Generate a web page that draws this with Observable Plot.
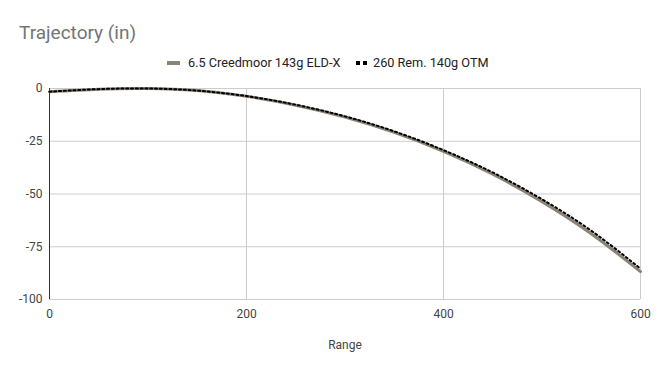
<!DOCTYPE html>
<html><head><meta charset="utf-8">
<script src="https://cdn.jsdelivr.net/npm/d3@7"></script>
<script src="https://cdn.jsdelivr.net/npm/@observablehq/plot@0.6"></script>
<style>
body{margin:0;background:#fff;font-family:Roboto,sans-serif;}
#wrap{position:relative;width:658px;height:371px;}
#title{position:absolute;left:19px;top:21px;font-size:19px;color:#757575;}
#legend{position:absolute;left:0;top:55px;width:658px;font-size:12.7px;color:#222;}
.sw{position:absolute;}
#chart{position:absolute;left:0;top:75px;}
</style></head>
<body><div id="wrap">
<div id="title">Trajectory (in)</div>
<div id="legend">
  <div class="sw" style="left:167px;top:6px;width:13px;height:3.5px;background:#8c8377"></div>
  <div style="position:absolute;left:188px;top:0;">6.5 Creedmoor 143g ELD-X</div>
  <div class="sw" style="left:356px;top:6px;width:3.5px;height:3.5px;background:#000"></div>
  <div class="sw" style="left:363px;top:6px;width:3.5px;height:3.5px;background:#000"></div>
  <div style="position:absolute;left:373px;top:0;">260 Rem. 140g OTM</div>
</div>
<div id="chart"></div>
</div>
<script>
const range = [0, 50, 100, 150, 200, 250, 300, 350, 400, 450, 500, 550, 600];
const creedmoor = [-1.5, -0.3, 0, -1.0, -3.7, -7.9, -13.5, -20.8, -29.8, -40.6, -53.6, -68.8, -86.8];
const rem260 = [-1.5, -0.3, 0, -1.0, -3.6, -7.7, -13.2, -20.3, -29.2, -39.8, -52.5, -67.4, -85.4];
const seriesNames = ["6.5 Creedmoor 143g ELD-X", "260 Rem. 140g OTM"];
const xTicks = [0, 200, 400, 600];
const yTicks = [0, -25, -50, -75, -100];

const d1 = range.map((r, i) => ({range: r, drop: creedmoor[i], series: seriesNames[0]}));
const d2 = range.map((r, i) => ({range: r, drop: rem260[i], series: seriesNames[1]}));

const chart = Plot.plot({
  width: 658, height: 296,
  marginTop: 13, marginBottom: 72, marginLeft: 49, marginRight: 18,
  style: {fontFamily: "Roboto, sans-serif", fontSize: "12px", color: "#444"},
  x: {domain: [0, 600]},
  y: {domain: [-100, 0]},
  marks: [
    Plot.gridY(yTicks, {stroke: "#cccccc", strokeOpacity: 1}),
    Plot.gridX(xTicks, {stroke: "#cccccc", strokeOpacity: 1}),
    Plot.axisX(xTicks, {tickSize: 0, tickPadding: 10, tickFormat: d => d, label: "Range", labelAnchor: "center", labelArrow: "none", labelOffset: 49, fill: "#444"}),
    Plot.axisY(yTicks, {tickSize: 0, tickPadding: 7, tickFormat: d => d, label: null, fill: "#444"}),
    Plot.ruleX([0], {stroke: "#333"}),
    Plot.line(d1, {x: "range", y: "drop", stroke: "#8c8377", strokeWidth: 3, curve: "natural"}),
    Plot.line(d2, {x: "range", y: "drop", stroke: "#000", strokeWidth: 2, strokeDasharray: "2,2.8", curve: "natural"})
  ]
});
document.getElementById("chart").appendChild(chart);
</script>
</body></html>
